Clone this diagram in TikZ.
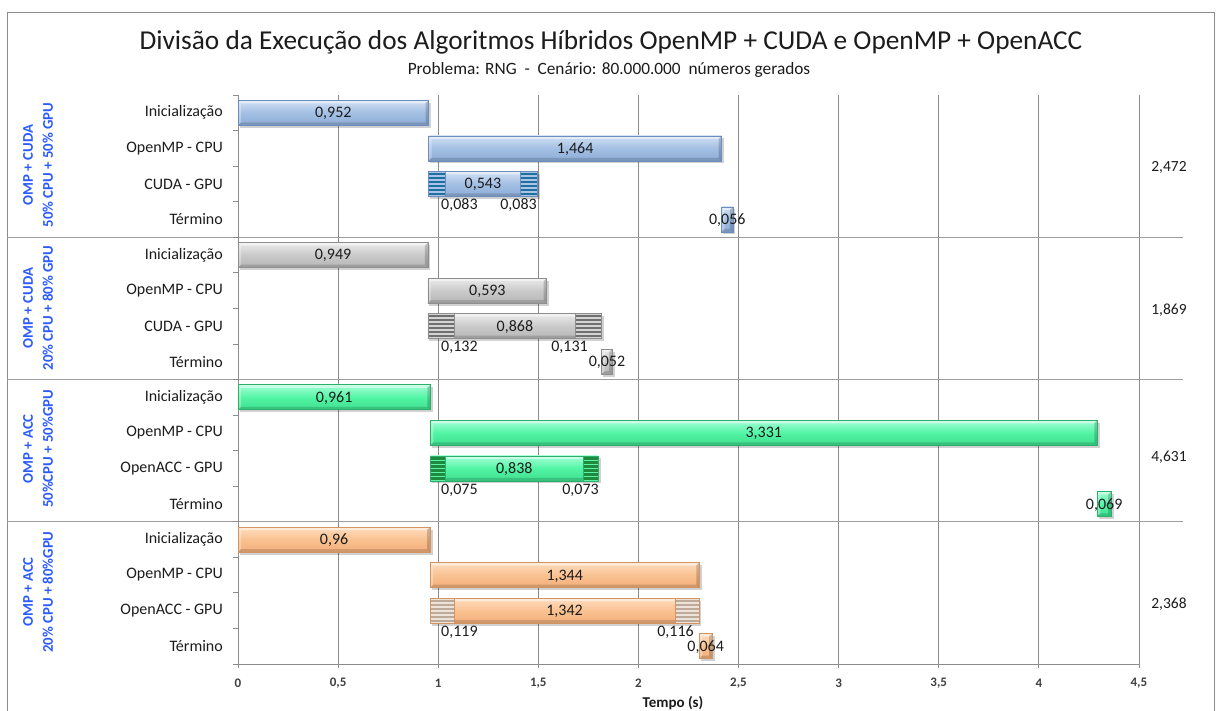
\documentclass[tikz,border=0pt]{standalone}
\usepackage{fontspec}
\setmainfont{Carlito}
\usetikzlibrary{calc}

% bar palettes: top / middle / bottom shading, edge, hatch light / hatch dark
\definecolor{bluetop}{HTML}{D2E1F4}
\definecolor{bluemid}{HTML}{A3BFE3}
\definecolor{bluebot}{HTML}{8DACD8}
\definecolor{blueedge}{HTML}{6C8EBF}
\definecolor{bluehl}{HTML}{A9C4E6}
\definecolor{bluehd}{HTML}{216F9E}
\definecolor{graytop}{HTML}{EBEBEB}
\definecolor{graymid}{HTML}{CACACA}
\definecolor{graybot}{HTML}{B5B5B5}
\definecolor{grayedge}{HTML}{8E8E8E}
\definecolor{grayhl}{HTML}{D4D4D4}
\definecolor{grayhd}{HTML}{707070}
\definecolor{greentop}{HTML}{A6FFD6}
\definecolor{greenmid}{HTML}{52F5A5}
\definecolor{greenbot}{HTML}{3EDF8F}
\definecolor{greenedge}{HTML}{2BB06C}
\definecolor{greenhl}{HTML}{5CF0A8}
\definecolor{greenhd}{HTML}{1E8A3C}
\definecolor{orangetop}{HTML}{FDDDC0}
\definecolor{orangemid}{HTML}{FAC291}
\definecolor{orangebot}{HTML}{F2AE79}
\definecolor{orangeedge}{HTML}{D49462}
\definecolor{orangehl}{HTML}{EEE3D8}
\definecolor{orangehd}{HTML}{BCA999}
\definecolor{gridgray}{HTML}{8C8C8C}
\definecolor{sepgray}{HTML}{9E9E9E}
\definecolor{grouplbl}{HTML}{2B5BFF}
\definecolor{txt}{HTML}{1C1C1C}

% horizontal scale: value -> x (0 at 238, 200.2 units per second)
% rows: 16 rows of 35.56 starting at 95
\newcommand{\drawbar}[4]{% from, to, row, palette
  \pgfmathsetmacro\xa{238+200.2*#1}%
  \pgfmathsetmacro\xb{238+200.2*#2}%
  \pgfmathsetmacro\yt{95+35.56*#3+5.3}%
  \pgfmathsetmacro\yb{\yt+25}%
  \fill[black,opacity=.18] (\xa+1.5,\yt+2.5) rectangle (\xb+2.5,\yb+2.5);
  \shade[top color=#4top,bottom color=#4bot,middle color=#4mid] (\xa,\yt) rectangle (\xb,\yb);
  \fill[white,opacity=.45] (\xa,\yt) -- (\xb,\yt) -- (\xb-3,\yt+3) -- (\xa+3,\yt+3) -- cycle;
  \fill[white,opacity=.30] (\xa,\yt) -- (\xa+3,\yt+3) -- (\xa+3,\yb-3) -- (\xa,\yb) -- cycle;
  \fill[black,opacity=.14] (\xa,\yb) -- (\xb,\yb) -- (\xb-3,\yb-3) -- (\xa+3,\yb-3) -- cycle;
  \fill[black,opacity=.18] (\xb,\yt) -- (\xb,\yb) -- (\xb-3,\yb-3) -- (\xb-3,\yt+3) -- cycle;
  \draw[#4edge,line width=.6pt] (\xa,\yt) rectangle (\xb,\yb);
}
\newcommand{\hatchseg}[4]{% from, to, row, palette
  \pgfmathsetmacro\xa{238+200.2*#1}%
  \pgfmathsetmacro\xb{238+200.2*#2}%
  \pgfmathsetmacro\yt{95+35.56*#3+5.3}%
  \pgfmathsetmacro\yb{\yt+25}%
  \fill[#4hl] (\xa,\yt) rectangle (\xb,\yb);
  \foreach \k in {0,...,5}{
    \fill[#4hd] (\xa,\yt+1.5+4*\k) rectangle (\xb,\yt+3.7+4*\k);
  }
  \draw[#4edge,line width=.6pt] (\xa,\yt) rectangle (\xb,\yb);
}

\tikzset{
  cat/.style={anchor=east,text=txt,font=\fontsize{16}{18}\selectfont,inner sep=0pt},
  val/.style={text=txt,font=\fontsize{16}{18}\selectfont,inner sep=0pt},
  tick/.style={text=black!75,font=\bfseries\fontsize{13}{15}\selectfont,inner sep=0pt},
  grp/.style={text=grouplbl,font=\bfseries\fontsize{14.8}{20}\selectfont,align=center,rotate=90,inner sep=0pt},
  tot/.style={text=txt,font=\fontsize{15.5}{17}\selectfont,inner sep=0pt},
  grid/.style={gridgray,line width=.8pt},
  sep/.style={sepgray,line width=.8pt},
}

\begin{document}
\begin{tikzpicture}[x=1pt,y=-1pt]
\useasboundingbox (0,0) rectangle (1217,711);
\fill[white] (0,0) rectangle (1217,711);

% chart frame
\draw[gridgray,line width=.8pt] (7,720) -- (7,12) -- (1214,12) -- (1214,720);

% titles
\node[text=txt,font=\fontsize{27.3}{31}\selectfont,inner sep=0pt] (title) at (611,42)
  {Divisão da Execução dos Algoritmos Híbridos OpenMP + CUDA e OpenMP + OpenACC};
\node[text=txt,font=\fontsize{17.3}{19}\selectfont,inner sep=0pt] (subtitle) at (609,70)
  {Problema: RNG\ \ -\ \ Cenário: 80.000.000\ \ números gerados};

% vertical grid lines with their ticks
\foreach \k in {1,...,9}{
  \draw[grid] ({238+100.1*\k},95) -- ({238+100.1*\k},668);
}
% group separators
\foreach \g in {1,2,3}{
  \draw[sep] (7,{95+142.24*\g}) -- (1183,{95+142.24*\g});
}
% axes
\draw[grid] (238,95) -- (238,668);
\draw[grid] (233,664) -- (1140,664);
\foreach \r in {0,...,15}{
  \draw[grid] (233,{95+35.56*\r}) -- (238,{95+35.56*\r});
}

% tick labels
\foreach \k/\t in {0/0,1/{0,5},2/1,3/{1,5},4/2,5/{2,5},6/3,7/{3,5},8/4,9/{4,5}}{
  \node[tick] (tk\k) at ({238+100.1*\k},683) {\t};
}
\node[text=txt,font=\bfseries\fontsize{15}{17}\selectfont,inner sep=0pt] (xlabel) at (673,703) {Tempo (s)};

% category labels
\foreach \g/\gpu in {0/CUDA - GPU,1/CUDA - GPU,2/OpenACC - GPU,3/OpenACC - GPU}{
  \node[cat] (c\g a) at (223,{95+35.56*(4*\g+0.5)}) {Inicialização};
  \node[cat] (c\g b) at (223,{95+35.56*(4*\g+1.5)}) {OpenMP - CPU};
  \node[cat] (c\g c) at (223,{95+35.56*(4*\g+2.5)}) {\gpu};
  \node[cat] (c\g d) at (223,{95+35.56*(4*\g+3.5)}) {Término};
}

% group labels
\node[grp] (g0) at (38,165) {OMP + CUDA\\50\% CPU + 50\% GPU};
\node[grp] (g1) at (38,308) {OMP + CUDA\\20\% CPU + 80\% GPU};
\node[grp] (g2) at (38,449) {OMP + ACC\\50\%CPU + 50\%GPU};
\node[grp] (g3) at (38,592) {OMP + ACC\\20\% CPU + 80\%GPU};

% ---- OMP + CUDA, 50/50
\drawbar{0}{0.952}{0}{blue}
\drawbar{0.952}{2.416}{1}{blue}
\drawbar{0.952}{1.495}{2}{blue}
\hatchseg{0.952}{1.035}{2}{blue}
\hatchseg{1.412}{1.495}{2}{blue}
\drawbar{2.416}{2.472}{3}{blue}
% ---- OMP + CUDA, 20/80
\drawbar{0}{0.949}{4}{gray}
\drawbar{0.949}{1.542}{5}{gray}
\drawbar{0.949}{1.817}{6}{gray}
\hatchseg{0.949}{1.081}{6}{gray}
\hatchseg{1.686}{1.817}{6}{gray}
\drawbar{1.817}{1.869}{7}{gray}
% ---- OMP + ACC, 50/50
\drawbar{0}{0.961}{8}{green}
\drawbar{0.961}{4.292}{9}{green}
\drawbar{0.961}{1.799}{10}{green}
\hatchseg{0.961}{1.036}{10}{green}
\hatchseg{1.726}{1.799}{10}{green}
\drawbar{4.292}{4.361}{11}{green}
% ---- OMP + ACC, 20/80
\drawbar{0}{0.96}{12}{orange}
\drawbar{0.96}{2.304}{13}{orange}
\drawbar{0.96}{2.302}{14}{orange}
\hatchseg{0.96}{1.079}{14}{orange}
\hatchseg{2.186}{2.302}{14}{orange}
\drawbar{2.304}{2.368}{15}{orange}

% value labels centred on their bars
\foreach \n/\a/\b/\r/\t in {
  v0/0/0.952/0/{0,952}, v1/0.952/2.416/1/{1,464}, v2/0.952/1.495/2/{0,543}, v3/2.416/2.472/3/{0,056},
  v4/0/0.949/4/{0,949}, v5/0.949/1.542/5/{0,593}, v6/0.949/1.817/6/{0,868}, v7/1.817/1.869/7/{0,052},
  v8/0/0.961/8/{0,961}, v9/0.961/4.292/9/{3,331}, v10/0.961/1.799/10/{0,838}, v11/4.292/4.361/11/{0,069},
  v12/0/0.96/12/{0,96}, v13/0.96/2.304/13/{1,344}, v14/0.96/2.302/14/{1,342}, v15/2.304/2.368/15/{0,064}}{
  \node[val] (\n) at ({238+100.1*(\a+\b)},{95+35.56*(\r+0.5)+0.8}) {\t};
}

% transfer times under the GPU bars
\foreach \n/\r/\t in {h0/2/{0,083},h1/6/{0,132},h2/10/{0,075},h3/14/{0,119}}{
  \node[val,anchor=west] (\n) at (441,{95+35.56*(\r+0.5)+21.5}) {\t};
}
\foreach \n/\x/\r/\t in {k0/537/2/{0,083},k1/588/6/{0,131},k2/599/10/{0,073},k3/694/14/{0,116}}{
  \node[val,anchor=east] (\n) at (\x,{95+35.56*(\r+0.5)+21.5}) {\t};
}

% totals
\node[tot] (s0) at (1169,167) {2,472};
\node[tot] (s1) at (1169,310) {1,869};
\node[tot] (s2) at (1169,457) {4,631};
\node[tot] (s3) at (1169,604) {2,368};
\end{tikzpicture}
\end{document}
